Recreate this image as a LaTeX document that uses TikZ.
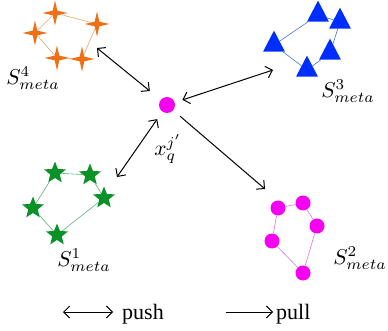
\documentclass[tikz,border=0pt]{standalone}
\usepackage{graphicx}
\usepackage{fontspec}
\setmainfont{Liberation Serif}
\usetikzlibrary{shapes.geometric,arrows.meta}
\definecolor{orst}{RGB}{240,110,20}
\definecolor{orln}{RGB}{225,170,110}
\definecolor{blu}{RGB}{0,45,255}
\definecolor{bluln}{RGB}{60,120,200}
\definecolor{grn}{RGB}{10,145,40}
\definecolor{grnln}{RGB}{90,180,120}
\definecolor{mag}{RGB}{245,0,240}
\definecolor{magln}{RGB}{220,120,220}
\newcommand{\bigmath}[1]{{\fontsize{10}{12}\selectfont\scalebox{2.15}{$#1$}}}
\tikzset{
  fourstar/.style={star, star points=4, star point ratio=3.8, minimum size=25pt, inner sep=0pt, fill=orst, draw=none},
  fivestar/.style={star, star points=5, star point ratio=2.3, minimum size=23pt, inner sep=0pt, fill=grn, draw=none},
  tri/.style={isosceles triangle, isosceles triangle apex angle=55, shape border rotate=90, minimum height=21pt, minimum width=18pt, inner sep=0pt, fill=blu, draw=none},
  mdot/.style={circle, minimum size=15pt, inner sep=0pt, fill=mag, draw=none},
  rel/.style={arrows={Straight Barb[length=6pt,width=12pt]-Straight Barb[length=6pt,width=12pt]}, line width=1pt},
  pullarr/.style={arrows={-Straight Barb[length=6pt,width=12pt]}, line width=1pt},
  lbl/.style={font=\fontsize{22}{26}\selectfont, inner sep=0pt},
}
\begin{document}
\begin{tikzpicture}[x=1pt,y=-1pt]
\useasboundingbox (0,0) rectangle (388,331);
% orange set S4
\node[fourstar] (o1) at (55,13) {};
\node[fourstar] (o2) at (97,24) {};
\node[fourstar] (o3) at (82,59) {};
\node[fourstar] (o4) at (57,58) {};
\node[fourstar] (o5) at (35,33) {};
\draw[orln, line width=0.6pt] (o1) -- (o2) -- (o3) -- (o4) -- (o5) -- (o1);
% blue set S3
\node[tri] (b1) at (318,15) {};
\node[tri] (b2) at (340,22) {};
\node[tri] (b3) at (330,53) {};
\node[tri] (b4) at (307,70) {};
\node[tri] (b5) at (274,45) {};
\draw[bluln, line width=0.6pt] (b1) -- (b2) -- (b3) -- (b4) -- (b5) -- (b1);
% green set S1
\node[fivestar] (g1) at (55,173) {};
\node[fivestar] (g2) at (90,175) {};
\node[fivestar] (g3) at (104,198) {};
\node[fivestar] (g4) at (57,235) {};
\node[fivestar] (g5) at (33,208) {};
\draw[grnln, line width=0.6pt] (g1) -- (g2) -- (g3) -- (g4) -- (g5) -- (g1);
% magenta set S2
\node[mdot] (m1) at (278,208) {};
\node[mdot] (m2) at (303,203) {};
\node[mdot] (m3) at (317,226) {};
\node[mdot] (m4) at (303,273) {};
\node[mdot] (m5) at (272,241) {};
\draw[magln, line width=0.6pt] (m1) -- (m2) -- (m3) -- (m4) -- (m5) -- (m1);
% query point
\node[mdot, minimum size=16pt] (c) at (167,105) {};
\node[lbl] (xq) at (168,149) {\bigmath{x_q^{j'}}};
% set labels
\node[lbl] (l4) at (33,78) {\bigmath{S^4_{meta}}};
\node[lbl] (l3) at (348,91) {\bigmath{S^3_{meta}}};
\node[lbl] (l1) at (84,260) {\bigmath{S^1_{meta}}};
\node[lbl] (l2) at (360,258) {\bigmath{S^2_{meta}}};
% arrow ends
\coordinate (e4) at (97,48);
\coordinate (e3) at (273,70);
\coordinate (e1) at (117,177);
\coordinate (e2) at (265,189);
\draw[rel, shorten <=14pt] (c) -- (e4);
\draw[rel, shorten <=8pt] (c) -- (e3);
\draw[rel, shorten <=9pt] (c) -- (e1);
\draw[pullarr, shorten <=9pt] (c) -- (e2);
% legend
\coordinate (pa) at (63,312);
\coordinate (pb) at (113,312);
\draw[rel] (pa) -- (pb);
\node[lbl, anchor=base west] (push) at (122,319) {push};
\coordinate (qa) at (226,312);
\coordinate (qb) at (273,312);
\draw[pullarr] (qa) -- (qb);
\node[lbl, anchor=base west] (pull) at (276,319) {pull};
\end{tikzpicture}
\end{document}
